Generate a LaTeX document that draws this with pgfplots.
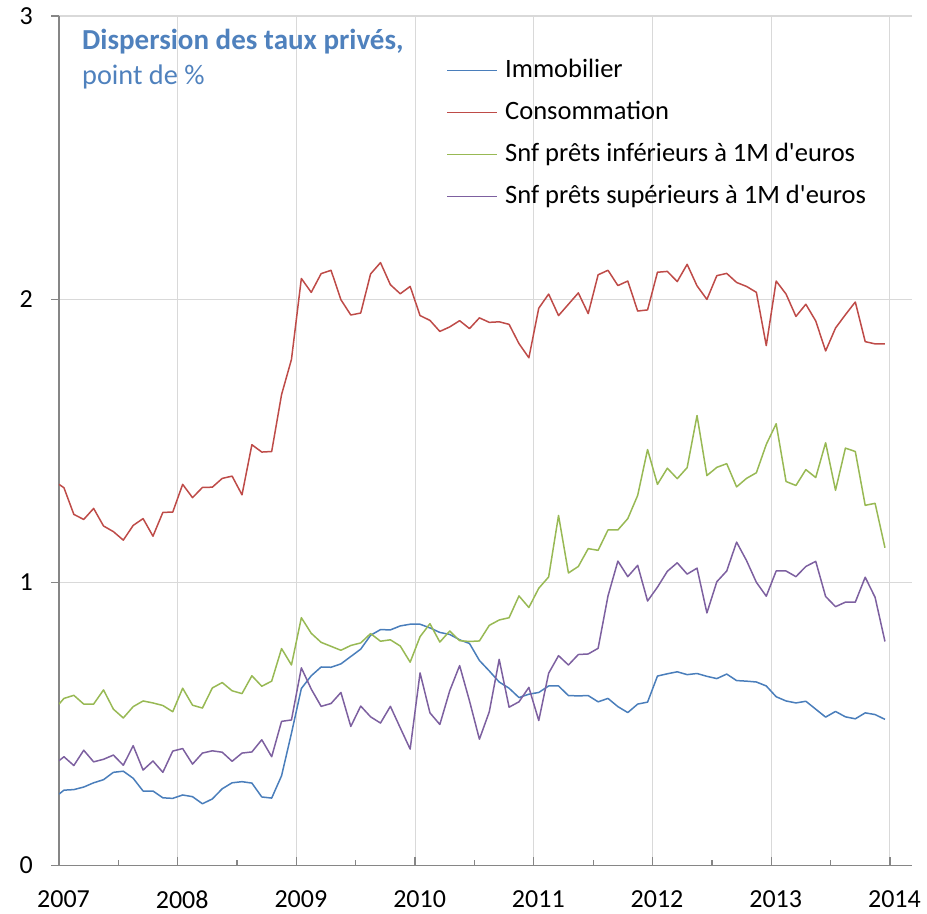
\documentclass[border=0pt]{standalone}
\usepackage{fontspec}
\setmainfont{Carlito}
\usepackage{pgfplots}
\pgfplotsset{compat=1.18}
\usepackage{pgfplotstable}
\definecolor{cImmo}{HTML}{4A7EBB}
\definecolor{cConso}{HTML}{BE4B48}
\definecolor{cInf}{HTML}{98B954}
\definecolor{cSup}{HTML}{7D60A0}
\definecolor{cTitle}{HTML}{4F81BD}
\definecolor{cGrid}{HTML}{D9D9D9}
\definecolor{cAxis}{HTML}{868686}

\pgfplotstableread{
t immo conso inf sup
2007.0000 0.252 1.346 0.570 0.370
2007.0417 0.266 1.334 0.590 0.384
2007.1250 0.268 1.240 0.601 0.353
2007.2083 0.277 1.222 0.570 0.407
2007.2917 0.292 1.261 0.570 0.366
2007.3750 0.303 1.199 0.620 0.375
2007.4583 0.329 1.179 0.552 0.390
2007.5417 0.333 1.149 0.521 0.354
2007.6250 0.308 1.201 0.561 0.423
2007.7083 0.263 1.225 0.581 0.337
2007.7917 0.263 1.163 0.574 0.369
2007.8750 0.239 1.247 0.565 0.329
2007.9583 0.237 1.248 0.543 0.404
2008.0417 0.249 1.346 0.626 0.413
2008.1250 0.243 1.299 0.566 0.358
2008.2083 0.218 1.335 0.556 0.397
2008.2917 0.235 1.336 0.627 0.405
2008.3750 0.271 1.367 0.646 0.400
2008.4583 0.292 1.375 0.617 0.368
2008.5417 0.296 1.309 0.607 0.397
2008.6250 0.291 1.486 0.670 0.401
2008.7083 0.242 1.460 0.633 0.444
2008.7917 0.238 1.462 0.651 0.384
2008.8750 0.317 1.663 0.766 0.509
2008.9583 0.467 1.787 0.708 0.514
2009.0417 0.625 2.073 0.875 0.698
2009.1250 0.670 2.024 0.820 0.623
2009.2083 0.701 2.090 0.788 0.562
2009.2917 0.700 2.102 0.774 0.572
2009.3750 0.712 1.998 0.760 0.611
2009.4583 0.738 1.944 0.777 0.491
2009.5417 0.764 1.951 0.786 0.563
2009.6250 0.813 2.089 0.819 0.525
2009.7083 0.833 2.129 0.792 0.503
2009.7917 0.832 2.051 0.797 0.562
2009.8750 0.846 2.019 0.775 0.486
2009.9583 0.852 2.045 0.718 0.411
2010.0417 0.852 1.942 0.808 0.680
2010.1250 0.839 1.925 0.854 0.539
2010.2083 0.823 1.886 0.789 0.498
2010.2917 0.816 1.902 0.828 0.617
2010.3750 0.797 1.924 0.794 0.706
2010.4583 0.784 1.896 0.791 0.581
2010.5417 0.724 1.934 0.793 0.446
2010.6250 0.687 1.918 0.848 0.543
2010.7083 0.648 1.920 0.867 0.728
2010.7917 0.626 1.911 0.875 0.559
2010.8750 0.593 1.843 0.952 0.578
2010.9583 0.605 1.793 0.911 0.629
2011.0417 0.611 1.968 0.979 0.512
2011.1250 0.634 2.018 1.019 0.679
2011.2083 0.634 1.942 1.236 0.741
2011.2917 0.600 1.982 1.033 0.708
2011.3750 0.599 2.022 1.056 0.745
2011.4583 0.600 1.949 1.119 0.747
2011.5417 0.578 2.086 1.113 0.767
2011.6250 0.590 2.102 1.185 0.952
2011.7083 0.561 2.048 1.185 1.075
2011.7917 0.540 2.064 1.225 1.020
2011.8750 0.570 1.958 1.307 1.060
2011.9583 0.577 1.962 1.469 0.934
2012.0417 0.669 2.095 1.346 0.983
2012.1250 0.677 2.098 1.403 1.039
2012.2083 0.684 2.062 1.366 1.069
2012.2917 0.674 2.123 1.405 1.029
2012.3750 0.678 2.047 1.589 1.050
2012.4583 0.668 1.999 1.377 0.892
2012.5417 0.660 2.083 1.406 1.002
2012.6250 0.676 2.091 1.419 1.040
2012.7083 0.653 2.059 1.337 1.142
2012.7917 0.651 2.045 1.367 1.077
2012.8750 0.648 2.024 1.387 1.000
2012.9583 0.634 1.836 1.487 0.951
2013.0417 0.596 2.064 1.560 1.040
2013.1250 0.581 2.018 1.356 1.040
2013.2083 0.574 1.939 1.342 1.020
2013.2917 0.580 1.982 1.398 1.056
2013.3750 0.552 1.923 1.370 1.074
2013.4583 0.524 1.817 1.493 0.950
2013.5417 0.544 1.898 1.325 0.914
2013.6250 0.525 1.945 1.474 0.930
2013.7083 0.518 1.990 1.462 0.930
2013.7917 0.539 1.850 1.272 1.018
2013.8750 0.533 1.842 1.279 0.947
2013.9583 0.516 1.842 1.122 0.791
}\data

\begin{document}
\begin{tikzpicture}
\begin{axis}[
  name=ax, at={(0,0)}, anchor=south west,
  scale only axis, width=853pt, height=849.5pt,
  xmin=2007, xmax=2014.186, ymin=0, ymax=3,
  axis x line=bottom, axis y line=left,
  axis line style={cAxis, line width=1.3pt, -},
  xtick={2007,2008,2009,2010,2011,2012,2013,2014},
  minor xtick={2007.5,2008.5,2009.5,2010.5,2011.5,2012.5,2013.5},
  ytick={0,1,2,3},
  /pgf/number format/1000 sep={},
  /pgf/number format/assume math mode=true,
  grid=major, major grid style={cGrid, line width=1.1pt},
  xtick align=inside, ytick align=outside,
  major tick length=8pt, minor tick length=5pt,
  tick style={cAxis, line width=1.3pt},
  ticklabel style={font=\fontsize{26}{30}\selectfont, inner sep=0pt},
  xticklabel style={anchor=north, yshift=-25pt, xshift=4.5pt},
  yticklabel style={anchor=east, xshift=-18pt},
  legend cell align=left,
  legend image code/.code={\draw[#1, line width=1.2pt] (0pt,0pt) -- (50pt,0pt);},
  legend style={at={(0.4545,0.9514)}, anchor=north west, draw=none, fill=none,
    inner sep=0pt, outer sep=0pt, row sep=16.2pt, column sep=7.3pt,
    font=\fontsize{26.5}{30}\selectfont,
    nodes={inner sep=0pt, text height=20pt, text depth=6pt}},
  no markers,
  every axis plot/.append style={line width=1.5pt, line join=round},
]
\addplot[cImmo] table[x=t, y=immo]{\data};
\addlegendentry{Immobilier}
\addplot[cConso] table[x=t, y=conso]{\data};
\addlegendentry{Consommation}
\addplot[cInf] table[x=t, y=inf]{\data};
\addlegendentry{Snf prêts inférieurs à 1M d\textquotesingle euros}
\addplot[cSup] table[x=t, y=sup]{\data};
\addlegendentry{Snf prêts supérieurs à 1M d\textquotesingle euros}
\end{axis}
\node[anchor=base west, font=\bfseries\fontsize{29}{34}\selectfont, text=cTitle, inner sep=0pt]
  at ([xshift=23pt, yshift=-33.3pt]ax.north west) {Dispersion des taux privés,};
\node[anchor=base west, font=\fontsize{28.3}{34}\selectfont, text=cTitle, inner sep=0pt]
  at ([xshift=23pt, yshift=-69pt]ax.north west) {point de \%};
\pgfresetboundingbox
\path[use as bounding box] ([xshift=-59pt,yshift=-48.5pt]ax.south west) rectangle ([xshift=15pt,yshift=16pt]ax.north east);
\end{tikzpicture}
\end{document}
